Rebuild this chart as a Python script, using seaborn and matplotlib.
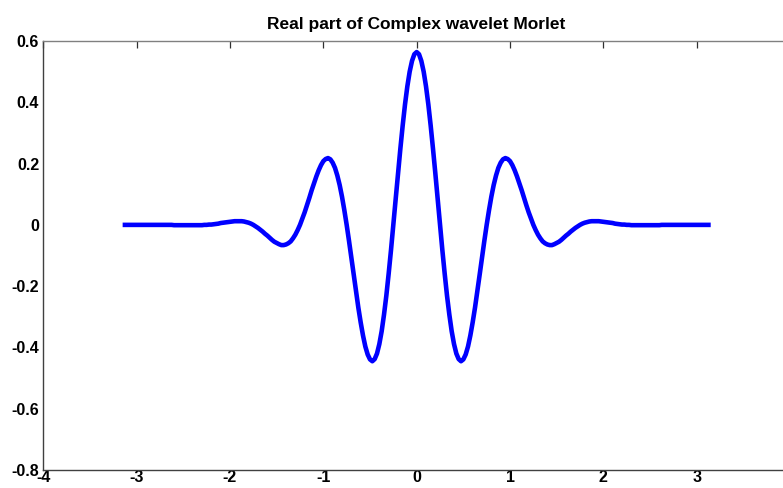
import numpy as np
import pandas as pd
import matplotlib
matplotlib.use("Agg")
import matplotlib.pyplot as plt
import seaborn as sns

# Sample positions along the support [-pi, pi] (step 0.025)
x_vals = np.round(np.arange(-126, 127) * 0.025, 3)

# Real part of the complex Morlet wavelet at each sample position
y_vals = [
    # x = -3.150 .. -2.625
    0.000, 0.000, 0.000, 0.000, 0.000, 0.000, 0.000, 0.000, 0.000, 0.000,
    0.000, 0.000, 0.000, 0.000, 0.000, 0.000, 0.000, 0.000, 0.000, 0.000,
    0.000, 0.000,
    # x = -2.600 .. -2.300
    -0.001, -0.001, -0.001, -0.001, -0.001, -0.001, -0.001, -0.001, -0.001,
    -0.001, -0.001, -0.001, -0.001,
    # x = -2.275 .. -2.250
    0.000, 0.000,
    # x = -2.225 .. -0.250
    0.001, 0.001, 0.002, 0.003, 0.004, 0.006, 0.007, 0.008, 0.009, 0.010,
    0.011, 0.012, 0.012, 0.012, 0.012, 0.011, 0.009, 0.007, 0.004, 0.000,
    -0.005, -0.010, -0.016, -0.022, -0.029, -0.035, -0.042, -0.049, -0.055, -0.059,
    -0.063, -0.066, -0.066, -0.064, -0.060, -0.054, -0.044, -0.032, -0.017, 0.000,
    0.020, 0.041, 0.064, 0.088, 0.113, 0.136, 0.158, 0.178, 0.195, 0.208,
    0.215, 0.218, 0.214, 0.203, 0.186, 0.161, 0.130, 0.092, 0.048, 0.000,
    -0.052, -0.107, -0.162, -0.217, -0.270, -0.318, -0.361, -0.397, -0.423, -0.439,
    -0.445, -0.438, -0.420, -0.389, -0.347, -0.293, -0.231, -0.159, -0.082, 0.000,
    # x = -0.225 .. 0.225
    0.084, 0.168, 0.248, 0.324, 0.393, 0.452, 0.500, 0.535, 0.557,
    0.564,
    0.557, 0.535, 0.500, 0.452, 0.393, 0.324, 0.248, 0.168, 0.084,
    # x = 0.250 .. 2.225
    0.000, -0.082, -0.159, -0.231, -0.293, -0.347, -0.389, -0.420, -0.438, -0.445,
    -0.439, -0.423, -0.397, -0.361, -0.318, -0.270, -0.217, -0.162, -0.107, -0.052,
    0.000, 0.048, 0.092, 0.130, 0.161, 0.186, 0.203, 0.214, 0.218, 0.215,
    0.208, 0.195, 0.178, 0.158, 0.136, 0.113, 0.088, 0.064, 0.041, 0.020,
    0.000, -0.017, -0.032, -0.044, -0.054, -0.060, -0.064, -0.066, -0.066, -0.063,
    -0.059, -0.055, -0.049, -0.042, -0.035, -0.029, -0.022, -0.016, -0.010, -0.005,
    0.000, 0.004, 0.007, 0.009, 0.011, 0.012, 0.012, 0.012, 0.012, 0.011,
    0.010, 0.009, 0.008, 0.007, 0.006, 0.004, 0.003, 0.002, 0.001, 0.001,
    # x = 2.250 .. 2.275
    0.000, 0.000,
    # x = 2.300 .. 2.600
    -0.001, -0.001, -0.001, -0.001, -0.001, -0.001, -0.001, -0.001, -0.001,
    -0.001, -0.001, -0.001, -0.001,
    # x = 2.625 .. 3.150
    0.000, 0.000, 0.000, 0.000, 0.000, 0.000, 0.000, 0.000, 0.000, 0.000,
    0.000, 0.000, 0.000, 0.000, 0.000, 0.000, 0.000, 0.000, 0.000, 0.000,
    0.000, 0.000,
]

x_ticks = [-4, -3, -2, -1, 0, 1, 2, 3, 4]
y_ticks = [-0.8, -0.6, -0.4, -0.2, 0, 0.2, 0.4, 0.6]
x_labels = ["-4", "-3", "-2", "-1", "0", "1", "2", "3", "4"]
y_labels = ["-0.8", "-0.6", "-0.4", "-0.2", "0", "0.2", "0.4", "0.6"]

df = pd.DataFrame({"x": x_vals, "y": y_vals})

sns.set_style("white")
plt.rcParams["font.family"] = ["Liberation Sans", "DejaVu Sans"]

fig = plt.figure(figsize=(7.83, 4.88), dpi=100)
ax = fig.add_axes([0.0553, 0.0369, 0.9537, 0.879])

sns.lineplot(data=df, x="x", y="y", ax=ax, color="#0000ff", linewidth=3.3,
             estimator=None, sort=False)
for line in ax.get_lines():
    line.set_solid_joinstyle("round")
    line.set_solid_capstyle("butt")

ax.set_xlim(-4, 4)
ax.set_ylim(-0.8, 0.6)
ax.set_xticks(x_ticks)
ax.set_xticklabels(x_labels)
ax.set_yticks(y_ticks)
ax.set_yticklabels(y_labels)
ax.set_xlabel("")
ax.set_ylabel("")

for side, spine in ax.spines.items():
    spine.set_visible(True)
    spine.set_color("#404040" if side in ("left", "bottom") else "#808080")
    spine.set_linewidth(1.0)

ax.tick_params(axis="both", which="both", direction="in", length=5, width=0.9,
               color="#303030", labelcolor="black", top=True, right=True,
               labelsize=11.5)
ax.tick_params(axis="x", pad=0)
ax.tick_params(axis="y", pad=3)
for lbl in ax.get_xticklabels() + ax.get_yticklabels():
    lbl.set_fontweight("bold")

ax.set_title("Real part of Complex wavelet Morlet", fontsize=12.5,
             fontweight="bold", color="black", pad=9)

fig.savefig("out.png", dpi=100, facecolor="white")
